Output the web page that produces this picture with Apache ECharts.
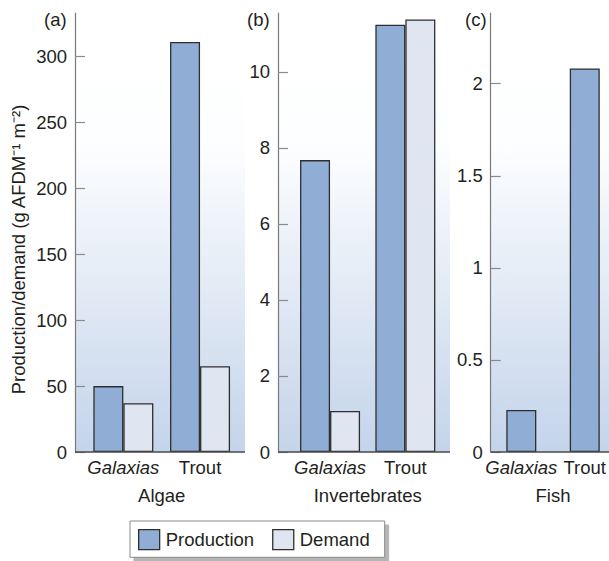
<!DOCTYPE html>
<html>
<head>
<meta charset="utf-8">
<script src="https://cdn.jsdelivr.net/npm/echarts@6/dist/echarts.min.js"></script>
<style>
html,body{margin:0;padding:0;background:#fff;}
#chart{width:609px;height:561px;}
</style>
</head>
<body>
<div id="chart"></div>
<script>
// ---- data ----
const categories = ['Galaxias', 'Trout'];
const panelNames = ['Algae', 'Invertebrates', 'Fish'];
const panelTags = ['(a)', '(b)', '(c)'];
const seriesNames = ['Production', 'Demand'];
const algaeProduction = [50, 311];
const algaeDemand = [37, 65];
const invertProduction = [7.68, 11.24];
const invertDemand = [1.08, 11.38];
const fishProduction = [0.228, 2.083];
const algaeTicks = [0, 50, 100, 150, 200, 250, 300];
const invertTicks = [0, 2, 4, 6, 8, 10];
const fishTicks = [0, 0.5, 1, 1.5, 2];
const yTitle = 'Production/demand (g AFDM\u207B\u00B9 m\u207B\u00B2)';

// ---- layout / style ----
const FONT = '"Liberation Sans", Arial, Helvetica, sans-serif';
const FS = 18.5;
const TXT = '#231f20';
const PROD_COLOR = '#90aed5';
const DEM_COLOR = '#dfe6f1';
const EDGE = '#2e2e2e';
const W = 609, TOP = 13, ZERO_Y = 452, H = 561;
// boundaryGap true: grid spans the two category bands; false: grid spans the two category centres
const panels = [
  {axisX: 75,    bgRight: 245, gridLeft: 85,    gridRight: 238.4, boundaryGap: true,  yMax: 333,   ticks: algaeTicks,  tagLeft: 44,
   series: [algaeProduction, algaeDemand]},
  {axisX: 278,   bgRight: 450, gridLeft: 292.4, gridRight: 443,   boundaryGap: true,  yMax: 11.55, ticks: invertTicks, tagLeft: 247,
   series: [invertProduction, invertDemand]},
  {axisX: 490.7, bgRight: 609, gridLeft: 521.3, gridRight: 586.7, boundaryGap: false, yMax: 2.384, ticks: fishTicks,   tagLeft: 465,
   series: [fishProduction]}
];

const chart = echarts.init(document.getElementById('chart'), null, {renderer: 'svg'});

const grid = [], xAxis = [], yAxis = [], series = [], title = [], graphic = [];
panels.forEach((p, i) => {
  grid.push({left: p.gridLeft, right: W - p.gridRight, top: TOP, bottom: H - ZERO_Y, containLabel: false});
  xAxis.push({
    type: 'category', gridIndex: i, data: categories, boundaryGap: p.boundaryGap,
    axisLine: {show: false}, axisTick: {show: false},
    axisLabel: {
      interval: 0, hideOverlap: false,
      margin: 6, fontSize: FS, fontFamily: FONT, color: TXT,
      formatter: v => v === 'Galaxias' ? '{it|' + v + '}' : v,
      rich: {it: {fontStyle: 'italic', fontSize: FS, fontFamily: FONT, color: TXT}}
    },
    name: panelNames[i], nameLocation: 'middle', nameGap: 34,
    nameTextStyle: {fontSize: FS, fontFamily: FONT, color: TXT}
  });
  const ya = {
    type: 'value', gridIndex: i, min: 0, max: p.yMax,
    offset: p.gridLeft - p.axisX,
    splitLine: {show: false},
    axisLine: {show: true, onZero: false, lineStyle: {color: '#7a7a7a', width: 1.2}},
    axisTick: {show: true, inside: true, length: 10, customValues: p.ticks, lineStyle: {color: '#8a8a8a', width: 1.2}},
    axisLabel: {show: true, margin: 8, fontSize: FS, fontFamily: FONT, color: TXT, customValues: p.ticks}
  };
  if (i === 0) {
    ya.name = yTitle;
    ya.nameLocation = 'middle';
    ya.nameGap = 47;
    ya.nameTextStyle = {fontSize: FS, fontFamily: FONT, color: TXT, padding: [0, 34, 0, 0]};
  }
  yAxis.push(ya);
  p.series.forEach((data, k) => {
    series.push({
      type: 'bar', name: seriesNames[k], xAxisIndex: i, yAxisIndex: i, data: data,
      barWidth: 30, barGap: '0%',
      itemStyle: {color: k === 0 ? PROD_COLOR : DEM_COLOR, borderColor: EDGE, borderWidth: 1.3},
      emphasis: {disabled: true}, animation: false
    });
  });
  title.push({text: panelTags[i], left: p.tagLeft, top: 10, padding: 0,
    textStyle: {fontSize: FS, fontWeight: 'normal', fontFamily: FONT, color: TXT}});
  graphic.push({
    type: 'rect', z: -1, silent: true,
    shape: {x: p.axisX, y: TOP, width: p.bgRight - p.axisX, height: ZERO_Y - TOP},
    style: {fill: new echarts.graphic.LinearGradient(0, 0, 0, 1, [
      {offset: 0, color: '#ffffff'}, {offset: 0.3, color: '#fdfeff'}, {offset: 1, color: '#c4d4ea'}
    ])}
  });
  graphic.push({
    type: 'line', z: 10, silent: true,
    shape: {x1: p.axisX, y1: ZERO_Y, x2: p.bgRight, y2: ZERO_Y},
    style: {stroke: '#4a4a4a', lineWidth: 1.4}
  });
});

chart.setOption({
  animation: false,
  backgroundColor: '#ffffff',
  title: title,
  grid: grid,
  xAxis: xAxis,
  yAxis: yAxis,
  series: series,
  graphic: graphic,
  legend: {
    data: seriesNames, left: 130, top: 521,
    padding: [8, 15, 7, 8], itemGap: 18, itemWidth: 21, itemHeight: 20,
    icon: 'rect',
    backgroundColor: '#ffffff', borderColor: '#8a8a8a', borderWidth: 1,
    shadowColor: '#b5b5b5', shadowOffsetX: 4, shadowOffsetY: 4, shadowBlur: 0,
    textStyle: {fontSize: FS, fontFamily: FONT, color: TXT, padding: [0, 0, 0, 1]},
    itemStyle: {borderColor: EDGE, borderWidth: 1.3},
    selectedMode: false
  }
});
</script>
</body>
</html>
